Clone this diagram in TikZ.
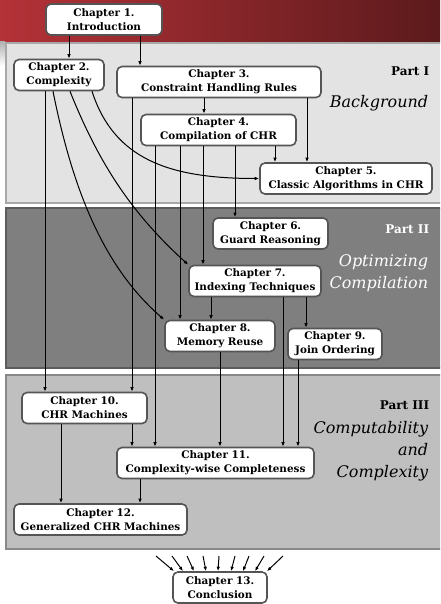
\documentclass[tikz,border=0pt]{standalone}
\usepackage{fontspec}
\setmainfont{DejaVu Serif}
\usetikzlibrary{arrows.meta}

\definecolor{hdrleft}{RGB}{180,50,56}
\definecolor{hdrright}{RGB}{92,26,28}
\definecolor{partone}{RGB}{227,227,227}
\definecolor{partoneline}{RGB}{168,168,168}
\definecolor{parttwo}{RGB}{127,127,127}
\definecolor{parttwoline}{RGB}{92,92,92}
\definecolor{partthree}{RGB}{191,191,191}
\definecolor{partthreeline}{RGB}{136,136,136}
\definecolor{chapline}{RGB}{85,85,85}

\begin{document}
\begin{tikzpicture}[x=1pt,y=-1pt,->,
	>={Latex[length=4.5pt,width=3.5pt]},
	line width=1pt,
	chap/.style={draw=chapline,fill=white,line width=1.6pt,rounded corners=5pt,
		align=center,inner sep=0pt,minimum height=31pt,
		font=\bfseries\fontsize{10.4}{14}\selectfont},
	partname/.style={anchor=base east,font=\bfseries\fontsize{12}{14}\selectfont},
	parttitle/.style={anchor=base east,font=\itshape\fontsize{16}{22}\selectfont},]

	\useasboundingbox (0,0) rectangle (440,604);
	\clip (0,0) rectangle (440,604);

	% header and the three parts
	\begin{scope}[-]
		\shade[left color=hdrleft,right color=hdrright] (0,0) rectangle (440,42);
		\shade[top color=gray!60,bottom color=white] (0,42) rectangle (5,66);
		\filldraw[fill=partone,draw=partoneline,line width=2pt] (6,43) rectangle (450,203);
		\filldraw[fill=parttwo,draw=parttwoline,line width=2pt] (6,208) rectangle (450,368);
		\filldraw[fill=partthree,draw=partthreeline,line width=2pt] (6,375) rectangle (450,549);
	\end{scope}

	\node[partname] (p1) at (433,76) {Part I};
	\node[parttitle] (p1t) at (432,108) {Background};
	\node[partname,text=white] (p2) at (433,233) {Part II};
	\node[parttitle,text=white] (p2t) at (432,266) {Optimizing};
	\node[parttitle,text=white] (p2u) at (432,288) {Compilation};
	\node[partname] (p3) at (433,409) {Part III};
	\node[parttitle] (p3t) at (432,433) {Computability};
	\node[parttitle] (p3u) at (432,455) {and};
	\node[parttitle] (p3v) at (432,477) {Complexity};

	% chapters
	\node[chap,minimum width=116pt] (c1) at (104,19.5) {Chapter 1.\\Introduction};
	\node[chap,minimum width=90pt] (c2) at (59,75) {Chapter 2.\\Complexity};
	\node[chap,minimum width=204pt] (c3) at (219,82) {Chapter 3.\\Constraint Handling Rules};
	\node[chap,minimum width=155pt] (c4) at (218.5,130) {Chapter 4.\\Compilation of CHR};
	\node[chap,minimum width=172pt] (c5) at (346,178.5) {Chapter 5.\\Classic Algorithms in CHR};
	\node[chap,minimum width=115pt] (c6) at (270.5,233.5) {Chapter 6.\\Guard Reasoning};
	\node[chap,minimum width=132pt] (c7) at (255,281) {Chapter 7.\\Indexing Techniques};
	\node[chap,minimum width=110pt] (c8) at (220,336) {Chapter 8.\\Memory Reuse};
	\node[chap,minimum width=94pt] (c9) at (335,344) {Chapter 9.\\Join Ordering};
	\node[chap,minimum width=125pt] (c10) at (84.5,408) {Chapter 10.\\CHR Machines};
	\node[chap,minimum width=197pt] (c11) at (215.5,463) {Chapter 11.\\Complexity-wise Completeness};
	\node[chap,minimum width=173pt] (c12) at (100.5,519.5) {Chapter 12.\\Generalized CHR Machines};
	\node[chap,minimum width=94pt] (c13) at (220,587.5) {Chapter 13.\\Conclusion};

	% straight dependencies
	\draw (c1.south -| 69,0) -- (c2.north -| 69,0);
	\draw (c1.south -| 140,0) -- (c3.north -| 140,0);
	\draw (c3.south -| 204,0) -- (c4.north -| 204,0);
	\draw (c3.south -| 307,0) -- (c5.north -| 307,0);
	\draw (c4.south -| 275,0) -- (c5.north -| 275,0);
	\draw (c2.south -| 45,0) -- (c10.north -| 45,0);
	\draw (c3.south -| 132,0) -- (c10.north -| 132,0);
	\draw (c4.south -| 155,0) -- (c11.north -| 155,0);
	\draw (c4.south -| 180,0) -- (c8.north -| 180,0);
	\draw (c4.south -| 203,0) -- (c7.north -| 203,0);
	\draw (c4.south -| 235,0) -- (c6.north -| 235,0);
	\draw (c7.south -| 211,0) -- (c8.north -| 211,0);
	\draw (c7.south -| 283,0) -- (c11.north -| 283,0);
	\draw (c7.south -| 306,0) -- (c9.north -| 306,0);
	\draw (c8.south -| 220,0) -- (c11.north -| 220,0);
	\draw (c9.south -| 298,0) -- (c11.north -| 298,0);
	\draw (c10.south -| 132,0) -- (c11.north -| 132,0);
	\draw (c10.south -| 61,0) -- (c12.north -| 61,0);
	\draw (c11.south -| 140,0) -- (c12.north -| 140,0);

	% curved ones out of chapter 2
	\draw (c2.south -| 92,0) .. controls +(22,68) and +(-90,0) .. (c5.west);
	\draw (c2.south -| 70,0) .. controls +(30,75) and +(-55,-50) .. (c7.north west);
	\draw (c2.south -| 53,0) .. controls +(20,100) and +(-60,-52) .. (c8.north west);

	% everything leads to the conclusion
	\foreach \sx/\ex [count=\i] in {156/174,172/183,187/194,203/206,219/218,235/231,249/243,264/255,283/267}{
		\coordinate (s\i) at (\sx,556);
		\draw (s\i) -- (c13.north -| \ex,0);
	}
\end{tikzpicture}
\end{document}
